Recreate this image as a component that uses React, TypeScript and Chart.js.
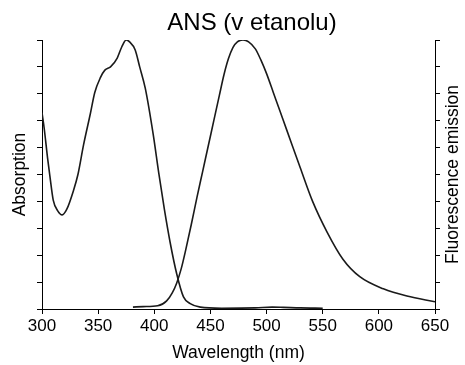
import React, { useEffect, useRef } from "react";
import { Chart, registerables } from "chart.js";

Chart.register(...registerables);

const titleText = "ANS (v etanolu)";
const xTitle = "Wavelength (nm)";
const leftTitle = "Absorption";
const rightTitle = "Fluorescence emission";

const xTicks = [300, 350, 400, 450, 500, 550, 600, 650];

const absWavelength = [300, 302, 305, 307, 310, 314, 318, 322, 328, 332, 337, 343, 347, 352, 356, 361, 367, 371, 375, 378, 383, 387, 392, 399, 404, 409, 414, 420, 426, 432, 441, 460, 490, 505, 515, 530, 550];
const absValues = [7.3, 6.7, 5.6, 4.95, 4.05, 3.65, 3.5, 3.7, 4.4, 5.0, 6.1, 7.25, 8.05, 8.6, 8.88, 9.0, 9.33, 9.74, 10, 9.93, 9.63, 9.0, 8.2, 6.5, 5.05, 3.7, 2.5, 1.3, 0.45, 0.2, 0.07, 0.03, 0.04, 0.07, 0.06, 0.04, 0.03];

const fluoWavelength = [381, 390, 403, 411, 416, 420, 424, 428, 433, 438, 443, 448, 453, 458, 462, 466, 470, 474, 479, 484, 490, 495, 500, 506, 512, 518, 524, 530, 541, 554, 568, 583, 604, 625, 650];
const fluoValues = [0.07, 0.09, 0.12, 0.3, 0.6, 0.97, 1.5, 2.2, 3.15, 4.15, 5.1, 6.05, 7.0, 7.95, 8.7, 9.3, 9.72, 9.93, 10, 9.93, 9.67, 9.25, 8.75, 8.05, 7.35, 6.65, 5.95, 5.25, 4.0, 2.85, 1.85, 1.2, 0.75, 0.48, 0.27];

const FONT = "'Liberation Sans', Arial, Helvetica, sans-serif";

export default function App() {
  const ref = useRef<HTMLCanvasElement | null>(null);

  useEffect(() => {
    document.body.style.margin = "0";
    const canvas = ref.current;
    if (!canvas) return;

    const textPlugin = {
      id: "customTexts",
      afterDraw(chart: any) {
        const { ctx, chartArea } = chart;
        ctx.save();
        ctx.fillStyle = "#000";
        ctx.textAlign = "center";
        ctx.textBaseline = "middle";
        ctx.font = `24px ${FONT}`;
        ctx.fillText(titleText, 252, 23);
        ctx.font = `17.5px ${FONT}`;
        ctx.translate(453, (chartArea.top + chartArea.bottom) / 2);
        ctx.rotate(-Math.PI / 2);
        ctx.fillText(rightTitle, 0, 0);
        ctx.restore();
      },
    };

    const chart = new Chart(canvas, {
      type: "line",
      data: {
        datasets: [
          {
            label: "Absorption",
            data: absWavelength.map((x, i) => ({ x, y: absValues[i] })),
            borderColor: "#1a1a1a",
            borderWidth: 1.6,
            pointRadius: 0,
            cubicInterpolationMode: "monotone",
            yAxisID: "y",
          },
          {
            label: "Fluorescence emission",
            data: fluoWavelength.map((x, i) => ({ x, y: fluoValues[i] })),
            borderColor: "#1a1a1a",
            borderWidth: 1.6,
            pointRadius: 0,
            cubicInterpolationMode: "monotone",
            yAxisID: "y1",
          },
        ],
      },
      options: {
        animation: false,
        responsive: false,
        maintainAspectRatio: false,
        layout: { padding: { top: 40 } },
        plugins: {
          legend: { display: false },
          title: { display: false },
          tooltip: { enabled: false },
        },
        scales: {
          x: {
            type: "linear",
            min: 300,
            max: 650,
            afterBuildTicks: (s: any) => {
              s.ticks = xTicks.map((v) => ({ value: v }));
            },
            afterFit: (s: any) => {
              s.height = 56;
            },
            grid: { drawOnChartArea: false, drawTicks: true, tickLength: 5, color: "#000", lineWidth: 1 },
            border: { display: true, color: "#000", width: 1 },
            ticks: { color: "#000", font: { family: FONT, size: 17 }, padding: 2, maxRotation: 0 },
            title: {
              display: true,
              text: xTitle,
              color: "#000",
              font: { family: FONT, size: 17.5 },
              padding: { top: 0, bottom: 1.5 },
            },
          },
          y: {
            position: "left",
            min: 0,
            max: 10,
            ticks: { display: false, stepSize: 1 },
            afterFit: (s: any) => {
              s.width = 42;
            },
            grid: { drawOnChartArea: false, drawTicks: true, tickLength: 5, color: "#000", lineWidth: 1 },
            border: { display: true, color: "#000", width: 1 },
            title: {
              display: true,
              text: leftTitle,
              color: "#000",
              font: { family: FONT, size: 17.5 },
              padding: { top: 9.5, bottom: 0 },
            },
          },
          y1: {
            position: "right",
            min: 0,
            max: 10,
            ticks: { display: false, stepSize: 1 },
            afterFit: (s: any) => {
              s.width = 30;
            },
            grid: { drawOnChartArea: false, drawTicks: true, tickLength: 5, color: "#000", lineWidth: 1 },
            border: { display: true, color: "#000", width: 1 },
          },
        },
      } as any,
      plugins: [textPlugin],
    });

    return () => chart.destroy();
  }, []);

  return <canvas ref={ref} width={465} height={365} style={{ display: "block" }} />;
}
